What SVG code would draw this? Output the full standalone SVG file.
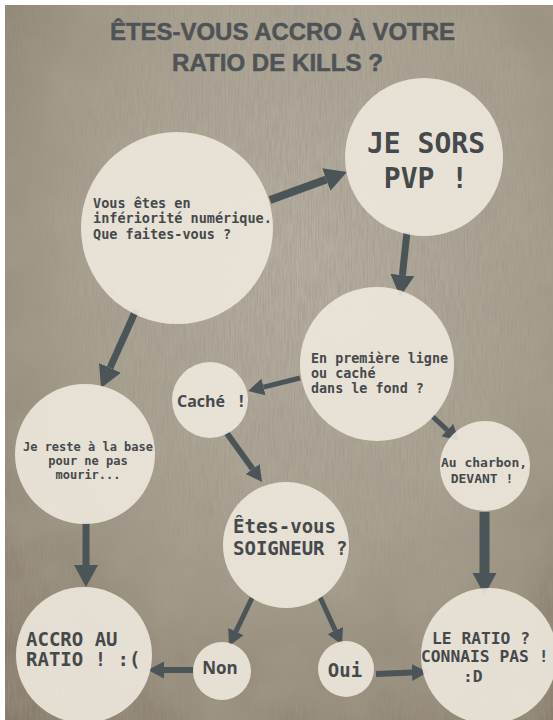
<svg xmlns="http://www.w3.org/2000/svg" width="553" height="720" viewBox="0 0 553 720">
<defs>
<radialGradient id="bg" cx="0.55" cy="0.35" r="0.8">
<stop offset="0" stop-color="#b7b0a3"/>
<stop offset="0.55" stop-color="#a59d8c"/>
<stop offset="1" stop-color="#847867"/>
</radialGradient>
<filter id="grain" x="0" y="0" width="100%" height="100%">
<feTurbulence type="fractalNoise" baseFrequency="0.7 0.05" numOctaves="3" seed="4"/>
<feColorMatrix type="matrix" values="0 0 0 0 0.33  0 0 0 0 0.30  0 0 0 0 0.25  0 0 0 1.6 -0.55"/>
</filter>
<filter id="blot" x="0" y="0" width="100%" height="100%">
<feTurbulence type="fractalNoise" baseFrequency="0.015" numOctaves="3" seed="9"/>
<feColorMatrix type="matrix" values="0 0 0 0 0.45  0 0 0 0 0.40  0 0 0 0 0.32  0 0 0 1.4 -0.45"/>
</filter>
<marker id="hb" markerUnits="userSpaceOnUse" markerWidth="24" markerHeight="26" viewBox="0 -13 24 26" refX="0" refY="0" orient="auto">
<path d="M0,-12 L22,0 L0,12 Z" fill="#4b5558"/>
</marker>
<marker id="hs" markerUnits="userSpaceOnUse" markerWidth="18" markerHeight="20" viewBox="0 -10 18 20" refX="0" refY="0" orient="auto">
<path d="M0,-8.5 L16,0 L0,8.5 Z" fill="#4b5558"/>
</marker>
<style>
.c{fill:#eee8dd;fill-opacity:0.9}
.m{font-family:"DejaVu Sans Mono","Liberation Mono",monospace;font-weight:bold;fill:#45494c}
.s{font-family:"Open Sans","Liberation Sans",sans-serif;font-weight:bold;fill:#45494c}
.t{font-family:"Liberation Sans",Arial,sans-serif;font-weight:bold;fill:#505356;stroke:#505356;stroke-width:0.5;font-size:24px;text-anchor:middle}
.a{stroke:#4b5558;fill:none;stroke-linecap:butt}
.ab{marker-end:url(#hb)}
.as{marker-end:url(#hs)}
</style>
</defs>
<rect width="553" height="720" fill="#ffffff"/>
<rect x="5" y="5" width="548" height="715" fill="url(#bg)"/>
<rect x="5" y="5" width="548" height="715" filter="url(#blot)" opacity="0.5"/>
<rect x="5" y="5" width="548" height="715" filter="url(#grain)" opacity="0.7"/>
<g id="title">
<text class="t" x="282.5" y="40" textLength="345" lengthAdjust="spacingAndGlyphs">ÊTES-VOUS ACCRO À VOTRE</text>
<text class="t" x="277.5" y="71" textLength="211" lengthAdjust="spacingAndGlyphs">RATIO DE KILLS ?</text>
</g>
<g id="connectors">
<line class="a ab" x1="270" y1="200" x2="326.3" y2="179.5" stroke-width="8"/>
<line class="a ab" x1="407" y1="232" x2="402.4" y2="275.1" stroke-width="7"/>
<line class="a ab" x1="136" y1="310" x2="110" y2="367.9" stroke-width="7"/>
<line class="a as" x1="300" y1="378" x2="263.5" y2="387.1" stroke-width="5"/>
<line class="a as" x1="432" y1="416" x2="447.3" y2="430.1" stroke-width="5"/>
<line class="a as" x1="226" y1="432" x2="252.7" y2="469" stroke-width="6"/>
<line class="a ab" x1="86" y1="522" x2="86" y2="565" stroke-width="7"/>
<line class="a ab" x1="484.5" y1="512" x2="484.5" y2="573" stroke-width="10"/>
<line class="a as" x1="252" y1="598" x2="235.9" y2="631.6" stroke-width="5"/>
<line class="a as" x1="320" y1="597" x2="335.3" y2="630.5" stroke-width="5"/>
<line class="a as" x1="193" y1="670" x2="164" y2="670" stroke-width="6"/>
<line class="a as" x1="376" y1="674" x2="412" y2="672.6" stroke-width="6"/>
</g>
<g id="n-inferiorite">
<circle class="c" cx="177" cy="228" r="96"/>
<text class="m" font-size="13.5" x="93" y="208">Vous êtes en</text>
<text class="m" font-size="13.5" x="93" y="223">infériorité numérique.</text>
<text class="m" font-size="13.5" x="93" y="239">Que faites-vous ?</text>
</g>
<g id="n-pvp">
<circle class="c" cx="424" cy="157" r="79"/>
<text class="m" font-size="28" x="426" y="153" text-anchor="middle">JE SORS</text>
<text class="m" font-size="28" x="426" y="188" text-anchor="middle">PVP !</text>
</g>
<g id="n-ligne">
<circle class="c" cx="377" cy="364" r="77"/>
<text class="m" font-size="13.4" x="311" y="363">En première ligne</text>
<text class="m" font-size="13.4" x="311" y="378">ou caché</text>
<text class="m" font-size="13.4" x="311" y="393">dans le fond ?</text>
</g>
<g id="n-cache">
<circle class="c" cx="210" cy="400" r="38"/>
<text class="s" font-size="16" x="177" y="407">Caché <tspan x="239">!</tspan></text>
</g>
<g id="n-base">
<circle class="c" cx="85" cy="454" r="70"/>
<text class="m" font-size="12" x="88" y="451" text-anchor="middle">Je reste à la base</text>
<text class="m" font-size="12" x="88" y="465" text-anchor="middle">pour ne pas</text>
<text class="m" font-size="12" x="88" y="479" text-anchor="middle">mourir...</text>
</g>
<g id="n-charbon">
<circle class="c" cx="485" cy="466" r="45"/>
<text class="m" font-size="13" x="484" y="467" text-anchor="middle">Au charbon,</text>
<text class="m" font-size="13" x="482" y="483" text-anchor="middle">DEVANT !</text>
</g>
<g id="n-soigneur">
<circle class="c" cx="286" cy="545" r="63"/>
<text class="m" font-size="19" x="233" y="533">Êtes-vous</text>
<text class="m" font-size="19" x="233" y="555">SOIGNEUR ?</text>
</g>
<g id="n-accro">
<circle class="c" cx="84" cy="655" r="68"/>
<text class="m" font-size="19" x="26" y="646">ACCRO AU</text>
<text class="m" font-size="19" x="26" y="666">RATIO ! :(</text>
</g>
<g id="n-non">
<circle class="c" cx="222" cy="671" r="29"/>
<text class="s" font-size="17" x="220" y="674" text-anchor="middle">Non</text>
</g>
<g id="n-oui">
<circle class="c" cx="346" cy="669" r="28"/>
<text class="m" font-size="19" x="345" y="677" text-anchor="middle">Oui</text>
</g>
<g id="n-ratio">
<circle class="c" cx="489" cy="656" r="68"/>
<text class="m" font-size="16.3" x="432" y="644">LE RATIO ?</text>
<text class="m" font-size="16.3" x="421" y="662">CONNAIS PAS !</text>
<text class="m" font-size="16.3" x="463" y="682">:D</text>
</g>
</svg>
